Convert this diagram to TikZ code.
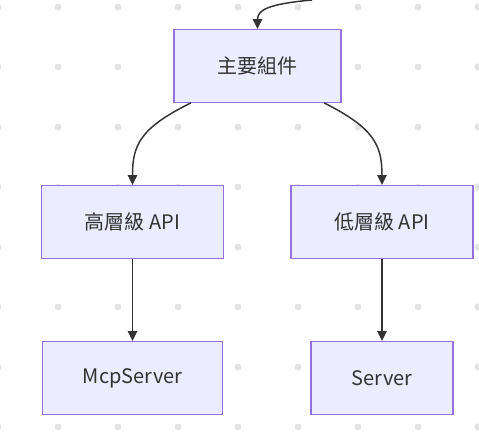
\documentclass[tikz,border=0pt]{standalone}
\usepackage{fontspec}
\setmainfont{Noto Sans CJK TC}
\usetikzlibrary{arrows.meta}
\definecolor{boxfill}{HTML}{ECECFF}
\definecolor{boxline}{HTML}{9370DB}
\definecolor{edgeline}{HTML}{333333}
\definecolor{griddot}{HTML}{E3E3E3}
\tikzset{
	comp/.style={draw=boxline, fill=boxfill, line width=0.9pt, minimum height=54.5pt, inner sep=0pt, text=edgeline, font=\fontsize{15}{18}\selectfont},
	link/.style={draw=edgeline, line width=1.1pt, -{Triangle[length=7.5pt,width=7pt]}}
}

\begin{document}
\begin{tikzpicture}[x=0.75pt,y=-0.75pt]
		%%%%% START %%%%%
		\useasboundingbox (0,0) rectangle (479,432);
		
		\foreach \gx in {-2,58,...,478}
			\foreach \gy in {7,67,...,427}
				\fill[griddot] (\gx,\gy) circle (2.6pt);
		
		\node[comp, minimum width=125.25pt] (main) at (257.5,66) {主要組件};
		\node[comp, minimum width=136.5pt] (high) at (132.5,222) {高層級 API};
		\node[comp, minimum width=136.5pt] (low) at (382,222) {低層級 API};
		\node[comp, minimum width=135pt] (mcp) at (132.5,378) {McpServer};
		\node[comp, minimum width=106.5pt] (srv) at (382,378) {Server};
		\coordinate (entry) at (312,0);
		
		\draw[link] (entry) .. controls (268,4) and (257.5,10) .. (main.north);
		\draw[link] (main.209) .. controls (140,128) and (132.5,145) .. (high.north);
		\draw[link] (main.331) .. controls (374,128) and (382,145) .. (low.north);
		\draw[link] (high.south) -- (mcp.north);
		\draw[link] (low.south) -- (srv.north);
		%%%%% END %%%%%
\end{tikzpicture}
\end{document}
